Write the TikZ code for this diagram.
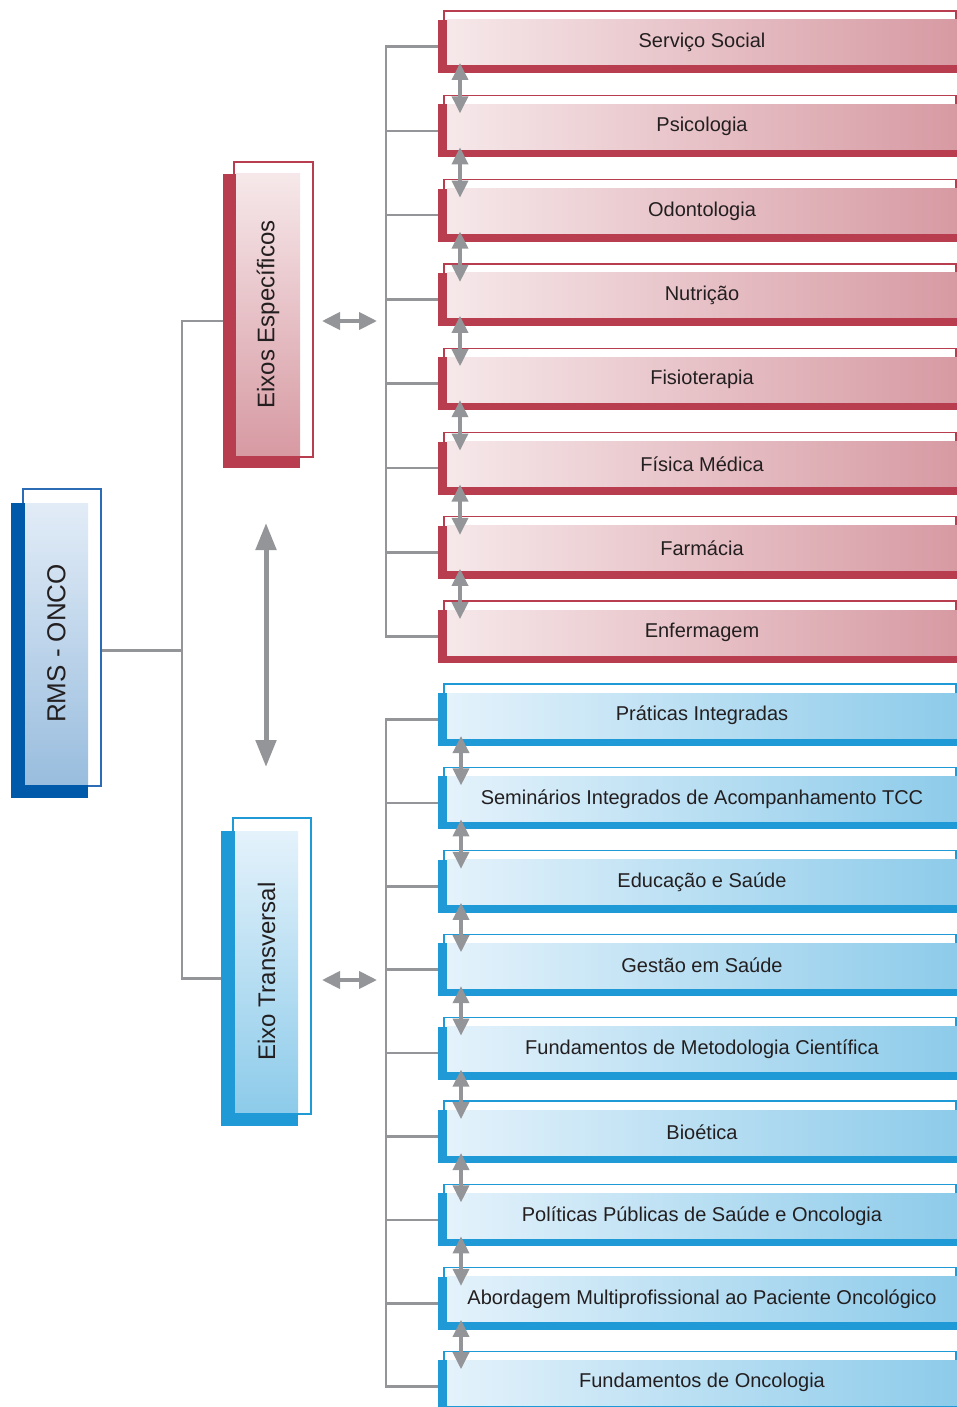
\documentclass[tikz,border=0pt]{standalone}
\usepackage{fontspec}
\setmainfont{Liberation Sans}
\usepackage{graphicx}
\usetikzlibrary{arrows.meta}

\definecolor{redbar}{HTML}{B73D4F}
\definecolor{redlight}{HTML}{F6E8EA}
\definecolor{reddeep}{HTML}{D79AA3}
\definecolor{bluebar}{HTML}{1F9AD6}
\definecolor{bluelight}{HTML}{E4F2FB}
\definecolor{bluedeep}{HTML}{8DCBEA}
\definecolor{rmsbar}{HTML}{0059A9}
\definecolor{rmsline}{HTML}{2B6CB5}
\definecolor{rmslight}{HTML}{E2ECF7}
\definecolor{rmsdeep}{HTML}{99BDDE}
\definecolor{linkgray}{HTML}{939598}
\definecolor{textdark}{HTML}{231F20}

\pgfdeclarelayer{background}
\pgfsetlayers{background,main}

\tikzset{
  boxframe/.style={draw=#1, line width=1.3pt, fill=white},
  shadowbar/.style={fill=#1, inner sep=0pt, outer sep=0pt},
  hbox/.style 2 args={inner sep=0pt, outer sep=0pt,
    minimum width=510pt, minimum height=45pt,
    left color=#1, right color=#2, text=textdark,
    font=\fontsize{20}{24}\selectfont},
  vbox/.style 2 args={inner sep=0pt, outer sep=0pt,
    top color=#1, bottom color=#2, text=textdark},
  conn/.style={draw=linkgray, line width=2.5pt},
  linkarrow/.style={draw=linkgray, fill=linkgray, line width=3.5pt,
    {Triangle[width=16pt,length=17pt]}-{Triangle[width=16pt,length=17pt]}},
  sidearrow/.style={draw=linkgray, fill=linkgray, line width=4pt,
    {Triangle[width=17pt,length=18pt]}-{Triangle[width=17pt,length=18pt]}},
  bigarrow/.style={draw=linkgray, fill=linkgray, line width=5pt,
    {Triangle[width=20pt,length=27pt]}-{Triangle[width=20pt,length=27pt]}}
}

\begin{document}
\begin{tikzpicture}[x=1pt, y=1pt]

\useasboundingbox (0,0) rectangle (957,-1407);

% RMS - ONCO, the root box on the left
\draw[boxframe=rmsline] (23,-489) rectangle (101,-786);
\node[shadowbar=rmsbar, minimum width=77pt, minimum height=295pt]
  (rmsS) at (49.5,-650.5) {};
\node[vbox={rmslight}{rmsdeep}, minimum width=63pt, minimum height=281pt,
  font=\fontsize{26}{30}\selectfont]
  (rms) at (56.5,-643.5) {\rotatebox{90}{RMS - ONCO}};

% the two axes
\draw[boxframe=redbar] (234,-162) rectangle (313,-457);
\node[shadowbar=redbar, minimum width=77pt, minimum height=294pt]
  (espS) at (261.5,-321) {};
\node[vbox={redlight}{reddeep}, minimum width=64pt, minimum height=281pt,
  font=\fontsize{24}{28}\selectfont]
  (esp) at (268,-314.5) {\rotatebox{90}{Eixos Específicos}};

\draw[boxframe=bluebar] (233,-818) rectangle (311,-1114);
\node[shadowbar=bluebar, minimum width=77pt, minimum height=295pt]
  (trvS) at (259.5,-978.5) {};
\node[vbox={bluelight}{bluedeep}, minimum width=63pt, minimum height=281pt,
  font=\fontsize{24}{28}\selectfont]
  (trv) at (266.5,-971.5) {\rotatebox{90}{Eixo Transversal}};

% red boxes: one per profession
\foreach \t [count=\i] in {Serviço Social,Psicologia,Odontologia,Nutrição,
  Fisioterapia,Física Médica,Farmácia,Enfermagem}
  {
    \pgfmathsetmacro{\c}{-42-84.3*(\i-1)}
    \draw[boxframe=redbar] (444,\c+31) rectangle (956,\c-23);
    \node[shadowbar=redbar, minimum width=519pt, minimum height=53pt]
      (espS\i) at (697.5,\c-4.5) {};
    \node[hbox={redlight}{reddeep}] (esp\i) at (702,\c-0.5) {\t};
  }

% blue boxes: the shared modules
\foreach \t [count=\i] in {Práticas Integradas,
  Seminários Integrados de Acompanhamento TCC,Educação e Saúde,
  Gestão em Saúde,Fundamentos de Metodologia Científica,Bioética,
  Políticas Públicas de Saúde e Oncologia,
  Abordagem Multiprofissional ao Paciente Oncológico,
  Fundamentos de Oncologia}
  {
    \pgfmathsetmacro{\c}{-715-83.4*(\i-1)}
    \draw[boxframe=bluebar] (444,\c+31) rectangle (956,\c-23);
    \node[shadowbar=bluebar, minimum width=519pt, minimum height=53pt]
      (trvS\i) at (697.5,\c-4.5) {};
    \node[hbox={bluelight}{bluedeep}] (trv\i) at (702,\c-0.5) {\t};
  }

% tree lines behind the boxes
\begin{pgfonlayer}{background}
\coordinate (trunk) at (182,0);
\coordinate (spineR) at (386,0);
\draw[conn] (rmsS.east) -- (rmsS.east -| trunk);
\draw[conn] (espS.west) -- (espS.west -| trunk)
  -- (trvS.west -| trunk) -- (trvS.west);

\draw[conn] (espS1.west) -- (espS1.west -| spineR)
  -- (espS8.west -| spineR) -- (espS8.west);
\foreach \i in {2,...,7}
  \draw[conn] (espS\i.west) -- (espS\i.west -| spineR);

\draw[conn] (trvS1.west) -- (trvS1.west -| spineR)
  -- (trvS9.west -| spineR) -- (trvS9.west);
\foreach \i in {2,...,8}
  \draw[conn] (trvS\i.west) -- (trvS\i.west -| spineR);
\end{pgfonlayer}

% double arrows between neighbouring boxes
\foreach \i [evaluate=\i as \j using int(\i+1)] in {1,...,7}
  \draw[linkarrow] ([xshift=13pt, yshift=2pt]esp\i.south west)
    -- ([xshift=13pt, yshift=-9pt]esp\j.north west);
\foreach \i [evaluate=\i as \j using int(\i+1)] in {1,...,8}
  \draw[linkarrow] ([xshift=14pt, yshift=2pt]trv\i.south west)
    -- ([xshift=14pt, yshift=-9pt]trv\j.north west);

% arrows between the axes and their groups
\coordinate (espL) at (322,-321);
\coordinate (espR) at (377,-321);
\coordinate (trvL) at (322,-980);
\coordinate (trvR) at (377,-980);
\draw[sidearrow] (espL) -- (espR);
\draw[sidearrow] (trvL) -- (trvR);

\coordinate (axisTop) at (266,-523);
\coordinate (axisBot) at (266,-767);
\draw[bigarrow] (axisTop) -- (axisBot);

\end{tikzpicture}
\end{document}
